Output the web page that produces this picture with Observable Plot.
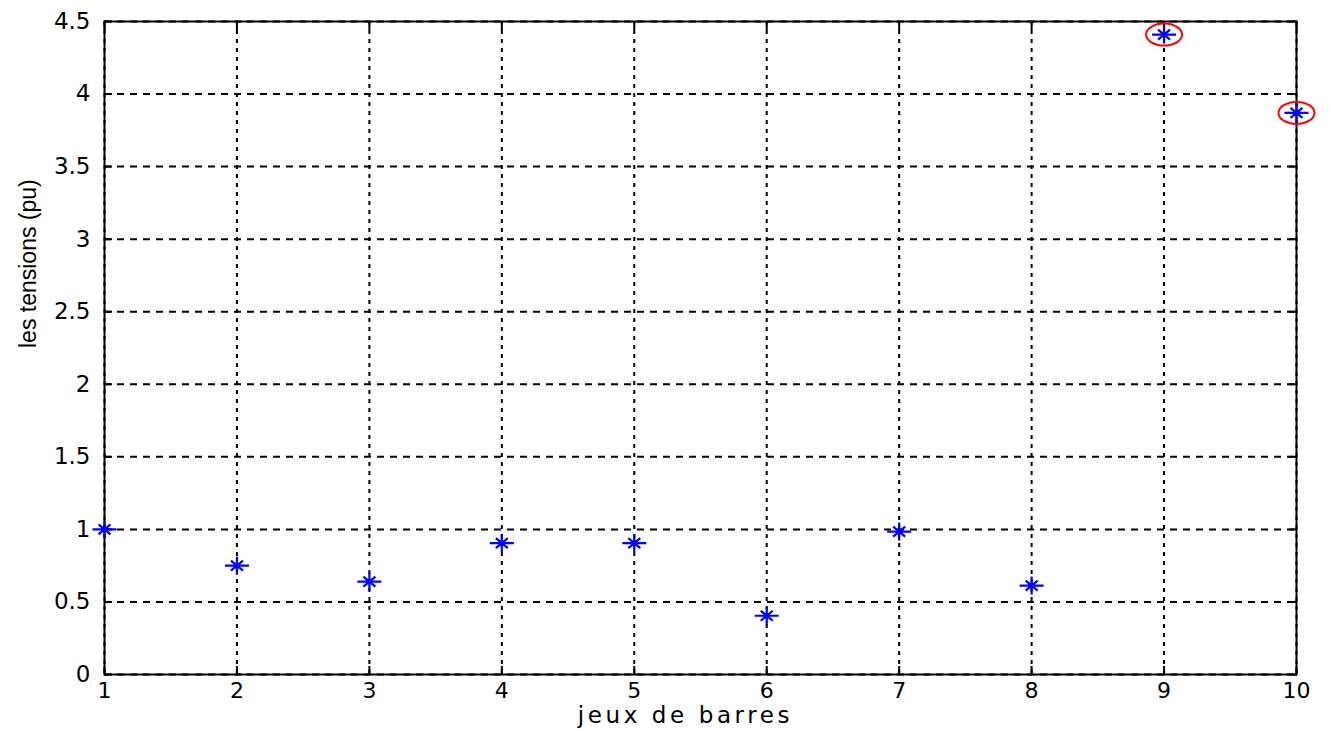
<!DOCTYPE html>
<html>
<head>
<meta charset="utf-8">
<script src="https://cdn.jsdelivr.net/npm/d3@7"></script>
<script src="https://cdn.jsdelivr.net/npm/@observablehq/plot@0.6"></script>
<style>
  html, body { margin: 0; padding: 0; background: #fff; }
  svg { display: block; }
  .xlabel text { letter-spacing: 3.6px; }
</style>
</head>
<body>
<div id="chart"></div>
<script>
// Data
const buses = [1, 2, 3, 4, 5, 6, 7, 8, 9, 10];
const voltages = [1.0, 0.75, 0.64, 0.905, 0.905, 0.405, 0.985, 0.613, 4.41, 3.87];
const flaggedBuses = [9, 10];
const xTicks = [1, 2, 3, 4, 5, 6, 7, 8, 9, 10];
const yTicks = [0, 0.5, 1, 1.5, 2, 2.5, 3, 3.5, 4, 4.5];
const xLabel = "jeux de barres";
const yLabel = "les tensions (pu)";

const points = buses.map((b, i) => ({bus: b, v: voltages[i]}));
const flagged = points.filter(d => flaggedBuses.includes(d.bus));

// MATLAB-like "*" marker
const asterisk = {
  draw(ctx) {
    ctx.moveTo(-12, 0); ctx.lineTo(12, 0);
    ctx.moveTo(0, -9); ctx.lineTo(0, 9);
    ctx.moveTo(-6, -5); ctx.lineTo(6, 5);
    ctx.moveTo(-6, 5); ctx.lineTo(6, -5);
  }
};
// ellipse marker
const ellipse = {
  draw(ctx) {
    const rx = 18, ry = 11, k = 0.5523;
    ctx.moveTo(rx, 0);
    ctx.bezierCurveTo(rx, k * ry, k * rx, ry, 0, ry);
    ctx.bezierCurveTo(-k * rx, ry, -rx, k * ry, -rx, 0);
    ctx.bezierCurveTo(-rx, -k * ry, -k * rx, -ry, 0, -ry);
    ctx.bezierCurveTo(k * rx, -ry, rx, -k * ry, rx, 0);
    ctx.closePath();
  }
};

const fmt = d => String(d);
const xTickFont = {fontFamily: "DejaVu Sans", fontSize: 22};
const yTickFont = {fontFamily: "DejaVu Sans", fontSize: 23};

const chart = Plot.plot({
  width: 1331,
  height: 731,
  marginLeft: 104,
  marginRight: 35,
  marginTop: 21,
  marginBottom: 57,
  style: {background: "#fff", color: "#000", fontFamily: "DejaVu Sans", fontSize: "23px"},
  x: {domain: [1, 10]},
  y: {domain: [0, 4.5]},
  marks: [
    Plot.gridX(xTicks, {stroke: "#000", strokeOpacity: 1, strokeWidth: 2, strokeDasharray: "4,5"}),
    Plot.gridY(yTicks, {stroke: "#000", strokeOpacity: 1, strokeWidth: 2, strokeDasharray: "7,6"}),
    Plot.axisX(xTicks, {anchor: "bottom", tickSize: -8, tickPadding: 16, tickFormat: fmt, strokeWidth: 2, label: null, ...xTickFont}),
    Plot.axisX(xTicks, {anchor: "top", tickSize: -8, tickFormat: () => "", strokeWidth: 2, label: null}),
    Plot.axisY(yTicks, {anchor: "left", tickSize: -8, tickPadding: 22, tickFormat: fmt, strokeWidth: 2, label: null, ...yTickFont}),
    Plot.axisY(yTicks, {anchor: "right", tickSize: -8, tickFormat: () => "", strokeWidth: 2, label: null}),
    Plot.frame({stroke: "#000", strokeWidth: 2}),
    Plot.dot(points, {x: "bus", y: "v", symbol: asterisk, r: 5, fill: "none", stroke: "#0000ff", strokeWidth: 2.2}),
    Plot.dot(points, {x: "bus", y: "v", r: 2.8, fill: "#0000ff", stroke: "none"}),
    Plot.dot(flagged, {x: "bus", y: "v", symbol: ellipse, r: 5, fill: "none", stroke: "#ff0000", strokeWidth: 2}),
    Plot.text([xLabel], {frameAnchor: "bottom", dy: 48, dx: -15, fontFamily: "DejaVu Sans", fontSize: 23, fill: "#000", className: "xlabel"}),
    Plot.text([yLabel], {frameAnchor: "left", rotate: -90, dx: -76, dy: 0, fontFamily: "Liberation Sans", fontSize: 23, fill: "#000"})
  ]
});
document.getElementById("chart").appendChild(chart);
</script>
</body>
</html>
